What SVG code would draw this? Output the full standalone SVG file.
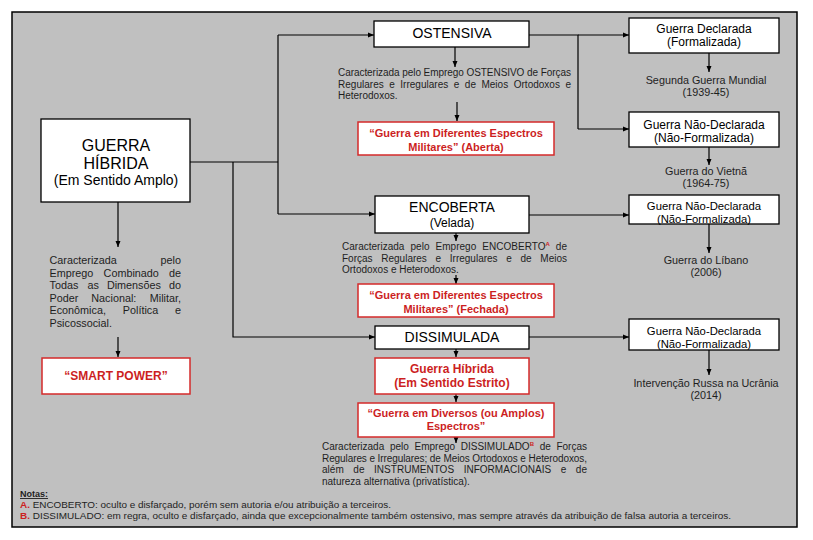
<svg xmlns="http://www.w3.org/2000/svg" width="813" height="540" viewBox="0 0 813 540">
<defs>
<marker id="ah" markerWidth="6" markerHeight="6" refX="6" refY="3" orient="auto" markerUnits="userSpaceOnUse">
<path d="M0,0.5 L6,3 L0,5.5 z" fill="#000"/>
</marker>
<style>
text{font-family:"Liberation Sans",Arial,sans-serif;}
.bx{fill:#fff;stroke:#000;stroke-width:1.3;}
.rb{fill:#fff;stroke:#d42a2a;stroke-width:1.5;}
.ln{fill:none;stroke:#000;stroke-width:1.2;}
.ar{fill:none;stroke:#000;stroke-width:1.2;marker-end:url(#ah);}
.t14{font-size:14px;fill:#000;text-anchor:middle;}
.t12{font-size:12px;fill:#000;text-anchor:middle;}
.t11{font-size:11.3px;fill:#000;text-anchor:middle;}
.rt{font-size:11px;font-weight:bold;fill:#cc1f1f;text-anchor:middle;}
.rt12{font-size:12px;font-weight:bold;fill:#cc1f1f;text-anchor:middle;}
.d{font-size:10px;fill:#1e1e1e;}
.dg{font-size:10.8px;fill:#1e1e1e;}
.ex{font-size:10.8px;fill:#1e1e1e;text-anchor:middle;}
.sup{font-size:6px;font-weight:bold;fill:#cc1f1f;}
.n{font-size:9px;fill:#1e1e1e;}
.nr{font-weight:bold;fill:#cc1f1f;}
</style>
</defs>
<rect x="12" y="12" width="785" height="515" fill="#c0c0c0" stroke="#000" stroke-width="1.5"/>

<g id="connectors">
<polyline class="ln" points="190,162 278,162"/>
<polyline class="ln" points="278,35 278,214"/>
<line class="ar" x1="278" y1="35" x2="374" y2="35"/>
<line class="ar" x1="278" y1="214" x2="375" y2="214"/>
<polyline class="ar" points="233,162 233,337 375,337"/>
<polyline class="ln" points="529,35 578,35 578,129"/>
<line class="ar" x1="578" y1="35" x2="629" y2="35"/>
<line class="ar" x1="578" y1="129" x2="629" y2="129"/>
<line class="ar" x1="529" y1="215" x2="629" y2="215"/>
<line class="ar" x1="529" y1="337" x2="629" y2="337"/>
<line class="ar" x1="118" y1="202" x2="118" y2="247"/>
<line class="ar" x1="118" y1="337" x2="118" y2="357"/>
<line class="ar" x1="455" y1="47" x2="455" y2="67"/>
<line class="ar" x1="457" y1="102" x2="457" y2="121"/>
<line class="ar" x1="456" y1="233" x2="456" y2="241"/>
<line class="ar" x1="456" y1="275" x2="456" y2="284"/>
<line class="ar" x1="456" y1="349" x2="456" y2="357"/>
<line class="ar" x1="456" y1="394" x2="456" y2="402"/>
<line class="ar" x1="456" y1="437" x2="456" y2="443"/>
<line class="ar" x1="709" y1="53" x2="709" y2="72"/>
<line class="ar" x1="709" y1="147" x2="709" y2="165"/>
<line class="ar" x1="709" y1="224" x2="709" y2="253"/>
<line class="ar" x1="709" y1="350" x2="709" y2="375"/>
</g>

<g id="guerra-hibrida">
<rect class="bx" x="41" y="119" width="149" height="83"/>
<text class="t14" x="116" y="151" style="font-size:16px">GUERRA</text>
<text class="t14" x="116" y="169" style="font-size:16px">HÍBRIDA</text>
<text class="t14" x="116" y="185">(Em Sentido Amplo)</text>
</g>

<g id="gh-desc">
<text class="dg" x="49.5" y="264">Caracterizada</text>
<text class="dg" x="181" y="264" text-anchor="end">pelo</text>
<text class="dg" x="49.5" y="276.6">Emprego</text>
<text class="dg" x="103.6" y="276.6">Combinado</text>
<text class="dg" x="181" y="276.6" text-anchor="end">de</text>
<text class="dg" x="49.5" y="289.2">Todas</text>
<text class="dg" x="87.5" y="289.2">as</text>
<text class="dg" x="106.9" y="289.2">Dimensões</text>
<text class="dg" x="181" y="289.2" text-anchor="end">do</text>
<text class="dg" x="49.5" y="301.8">Poder</text>
<text class="dg" x="91.3" y="301.8">Nacional:</text>
<text class="dg" x="181" y="301.8" text-anchor="end">Militar,</text>
<text class="dg" x="49.5" y="314.4">Econômica,</text>
<text class="dg" x="122.8" y="314.4">Política</text>
<text class="dg" x="181" y="314.4" text-anchor="end">e</text>
<text class="dg" x="49.5" y="327">Psicossocial.</text>
</g>

<g id="smart-power">
<rect class="rb" x="42" y="358" width="148" height="36"/>
<text class="rt12" x="116" y="380">“SMART POWER”</text>
</g>

<g id="ostensiva">
<rect class="bx" x="374" y="21" width="155" height="26"/>
<text class="t14" x="452" y="38">OSTENSIVA</text>
</g>

<g id="ost-desc">
<text class="d" x="338" y="76" textLength="233" lengthAdjust="spacing">Caracterizada pelo Emprego OSTENSIVO de Forças</text>
<text class="d" x="338" y="87.5" textLength="233" lengthAdjust="spacing" word-spacing="2.7">Regulares e Irregulares e de Meios Ortodoxos e</text>
<text class="d" x="338" y="99">Heterodoxos.</text>
</g>

<g id="aberta">
<rect class="rb" x="358" y="122" width="196" height="33"/>
<text class="rt" x="456" y="137">“Guerra em Diferentes Espectros</text>
<text class="rt" x="456" y="151">Militares” (Aberta)</text>
</g>

<g id="encoberta">
<rect class="bx" x="375" y="196" width="154" height="37"/>
<text class="t14" x="452" y="212">ENCOBERTA</text>
<text class="t12" x="452" y="227">(Velada)</text>
</g>

<g id="enc-desc">
<text class="d" x="342" y="250" textLength="225" lengthAdjust="spacing" word-spacing="3.3">Caracterizada pelo Emprego ENCOBERTO<tspan class="sup" dy="-4">A</tspan><tspan dy="4"> de</tspan></text>
<text class="d" x="342" y="261.7" textLength="225" lengthAdjust="spacing" word-spacing="5.9">Forças Regulares e Irregulares e de Meios</text>
<text class="d" x="342" y="273.3">Ortodoxos e Heterodoxos.</text>
</g>

<g id="fechada">
<rect class="rb" x="358" y="284" width="196" height="33"/>
<text class="rt" x="456" y="299.3">“Guerra em Diferentes Espectros</text>
<text class="rt" x="456" y="312.7">Militares” (Fechada)</text>
</g>

<g id="dissimulada">
<rect class="bx" x="375" y="326" width="154" height="23"/>
<text class="t14" x="452" y="342">DISSIMULADA</text>
</g>

<g id="gh-estrito">
<rect class="rb" x="375" y="358" width="154" height="36"/>
<text class="rt12" x="452" y="373">Guerra Híbrida</text>
<text class="rt12" x="452" y="387">(Em Sentido Estrito)</text>
</g>

<g id="diversos">
<rect class="rb" x="358" y="403" width="196" height="34"/>
<text class="rt" x="456" y="416.7">“Guerra em Diversos (ou Amplos)</text>
<text class="rt" x="456" y="430">Espectros”</text>
</g>

<g id="diss-desc">
<text class="d" x="322" y="450" textLength="265" lengthAdjust="spacing" word-spacing="2.9">Caracterizada pelo Emprego DISSIMULADO<tspan class="sup" dy="-4">B</tspan><tspan dy="4"> de Forças</tspan></text>
<text class="d" x="322" y="461.5" textLength="265" lengthAdjust="spacing">Regulares e Irregulares; de Meios Ortodoxos e Heterodoxos,</text>
<text class="d" x="322" y="473" textLength="265" lengthAdjust="spacing" word-spacing="6.8">além de INSTRUMENTOS INFORMACIONAIS e de</text>
<text class="d" x="322" y="484.5">natureza alternativa (privatística).</text>
</g>

<g id="guerra-declarada">
<rect class="bx" x="629" y="18" width="150" height="35"/>
<text class="t12" x="704" y="33">Guerra Declarada</text>
<text class="t12" x="704" y="45.5">(Formalizada)</text>
</g>
<text class="ex" x="706" y="83.5">Segunda Guerra Mundial</text>
<text class="ex" x="706" y="95.5">(1939-45)</text>

<g id="nao-declarada-1">
<rect class="bx" x="629" y="112" width="150" height="35"/>
<text class="t12" x="704" y="129">Guerra Não-Declarada</text>
<text class="t12" x="704" y="141.5">(Não-Formalizada)</text>
</g>
<text class="ex" x="706" y="175">Guerra do Vietnã</text>
<text class="ex" x="706" y="187">(1964-75)</text>

<g id="nao-declarada-2">
<rect class="bx" x="629" y="195" width="150" height="29"/>
<text class="t11" x="704" y="210">Guerra Não-Declarada</text>
<text class="t11" x="704" y="222.5">(Não-Formalizada)</text>
</g>
<text class="ex" x="706" y="264">Guerra do Líbano</text>
<text class="ex" x="706" y="276">(2006)</text>

<g id="nao-declarada-3">
<rect class="bx" x="629" y="319" width="150" height="31"/>
<text class="t11" x="704" y="334.5">Guerra Não-Declarada</text>
<text class="t11" x="704" y="347.5">(Não-Formalizada)</text>
</g>
<text class="ex" x="706" y="386.7">Intervenção Russa na Ucrânia</text>
<text class="ex" x="706" y="398.5">(2014)</text>

<g id="notas">
<text class="n" x="20" y="497" font-weight="bold" text-decoration="underline">Notas:</text>
<text class="n" x="20" y="508" textLength="371" lengthAdjust="spacingAndGlyphs"><tspan class="nr">A.</tspan> ENCOBERTO: oculto e disfarçado, porém sem autoria e/ou atribuição a terceiros.</text>
<text class="n" x="20" y="519.3" textLength="711" lengthAdjust="spacingAndGlyphs"><tspan class="nr">B.</tspan> DISSIMULADO: em regra, oculto e disfarçado, ainda que excepcionalmente também ostensivo, mas sempre através da atribuição de falsa autoria a terceiros.</text>
</g>
</svg>
